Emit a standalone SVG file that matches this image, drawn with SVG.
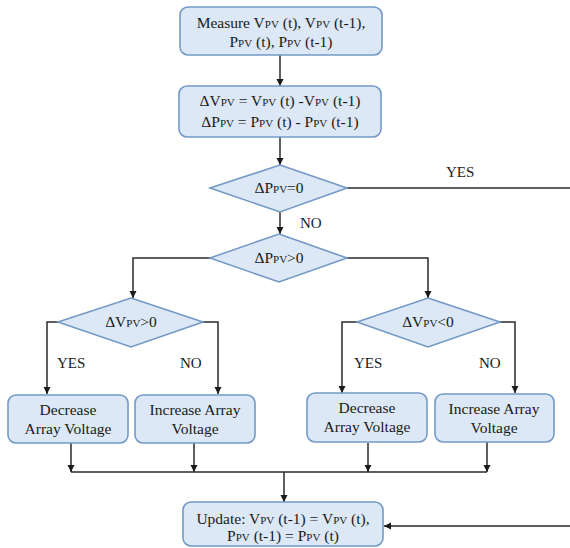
<svg xmlns="http://www.w3.org/2000/svg" width="570" height="548" viewBox="0 0 570 548" font-family="Liberation Serif, serif">
<defs>
<marker id="ah" markerWidth="8" markerHeight="8" refX="7" refY="4" orient="auto" markerUnits="userSpaceOnUse">
<path d="M0,0.5 L7,4 L0,7.5 Z" fill="#1a1a1a"/>
</marker>
<style>
.box{fill:#dce8f5;stroke:#7399c6;stroke-width:1.6}
.t{font-family:'Liberation Serif',serif !important;font-size:15.5px;fill:#1a1a1a;text-anchor:middle}
.s{font-family:'Liberation Serif',serif !important;font-size:11px}
.lbl{font-family:'Liberation Serif',serif !important;font-size:15px;fill:#1a1a1a}
.c{fill:none;stroke:#2a2a2a;stroke-width:1.5}
</style>
</defs>
<rect width="570" height="548" fill="#ffffff"/>
<g id="connectors">
<path class="c" d="M280,55 V86" marker-end="url(#ah)"/>
<path class="c" d="M280,137 V165" marker-end="url(#ah)"/>
<path class="c" d="M280,212 V234" marker-end="url(#ah)"/>
<path class="c" d="M347,188 H585 V526 H384" marker-end="url(#ah)"/>
<path class="c" d="M210,258 H133 V298" marker-end="url(#ah)"/>
<path class="c" d="M347,258 H428 V298" marker-end="url(#ah)"/>
<path class="c" d="M58,322 H47 V394" marker-end="url(#ah)"/>
<path class="c" d="M203,322 H218 V394" marker-end="url(#ah)"/>
<path class="c" d="M357,322 H342 V393" marker-end="url(#ah)"/>
<path class="c" d="M500,322 H515 V393" marker-end="url(#ah)"/>
<path class="c" d="M71,443 V472" marker-end="url(#ah)"/>
<path class="c" d="M194,443 V472" marker-end="url(#ah)"/>
<path class="c" d="M368,443 V472" marker-end="url(#ah)"/>
<path class="c" d="M487,442 V472" marker-end="url(#ah)"/>
<path class="c" d="M71,472 H487"/>
<path class="c" d="M284,472 V502" marker-end="url(#ah)"/>
<text class="lbl" x="446" y="177">YES</text>
<text class="lbl" x="300" y="228">NO</text>
<text class="lbl" x="57" y="368">YES</text>
<text class="lbl" x="180" y="368">NO</text>
<text class="lbl" x="354" y="368">YES</text>
<text class="lbl" x="479" y="368">NO</text>
</g>
<g id="measure">
<rect class="box" x="180" y="7" width="202" height="48" rx="8"/>
<text class="t" x="281" y="28">Measure V<tspan class="s">PV</tspan> (t), V<tspan class="s">PV</tspan> (t-1),</text>
<text class="t" x="281" y="47">P<tspan class="s">PV</tspan> (t), P<tspan class="s">PV</tspan> (t-1)</text>
</g>
<g id="delta">
<rect class="box" x="179" y="86" width="202" height="51" rx="8"/>
<text class="t" x="280" y="106">ΔV<tspan class="s">PV</tspan> = V<tspan class="s">PV</tspan> (t) -V<tspan class="s">PV</tspan> (t-1)</text>
<text class="t" x="280" y="127">ΔP<tspan class="s">PV</tspan> = P<tspan class="s">PV</tspan> (t) - P<tspan class="s">PV</tspan> (t-1)</text>
</g>
<g id="dp0">
<polygon class="box" points="280,165 347,188 280,212 210,188"/>
<text class="t" x="279" y="193">ΔP<tspan class="s">PV</tspan>=0</text>
</g>
<g id="dpgt0">
<polygon class="box" points="279,234 347,258 279,282 210,258"/>
<text class="t" x="279" y="263">ΔP<tspan class="s">PV</tspan>&gt;0</text>
</g>
<g id="dvgt0">
<polygon class="box" points="131,298 203,322 131,347 58,322"/>
<text class="t" x="131" y="327">ΔV<tspan class="s">PV</tspan>&gt;0</text>
</g>
<g id="dvlt0">
<polygon class="box" points="428,298 500,322 428,347 357,322"/>
<text class="t" x="428" y="327">ΔV<tspan class="s">PV</tspan>&lt;0</text>
</g>
<g id="dec1">
<rect class="box" x="8" y="395" width="120" height="48" rx="8"/>
<text class="t" x="68" y="415">Decrease</text>
<text class="t" x="68" y="434">Array Voltage</text>
</g>
<g id="inc1">
<rect class="box" x="135" y="395" width="120" height="48" rx="8"/>
<text class="t" x="195" y="415">Increase Array</text>
<text class="t" x="195" y="434">Voltage</text>
</g>
<g id="dec2">
<rect class="box" x="307" y="393" width="120" height="49" rx="8"/>
<text class="t" x="367" y="413">Decrease</text>
<text class="t" x="367" y="432">Array Voltage</text>
</g>
<g id="inc2">
<rect class="box" x="435" y="394" width="119" height="48" rx="8"/>
<text class="t" x="494" y="414">Increase Array</text>
<text class="t" x="494" y="433">Voltage</text>
</g>
<g id="update">
<rect class="box" x="183" y="502" width="200" height="44" rx="8"/>
<text class="t" x="283" y="524">Update: V<tspan class="s">PV</tspan> (t-1) = V<tspan class="s">PV</tspan> (t),</text>
<text class="t" x="283" y="541">P<tspan class="s">PV</tspan> (t-1) = P<tspan class="s">PV</tspan> (t)</text>
</g>
</svg>
